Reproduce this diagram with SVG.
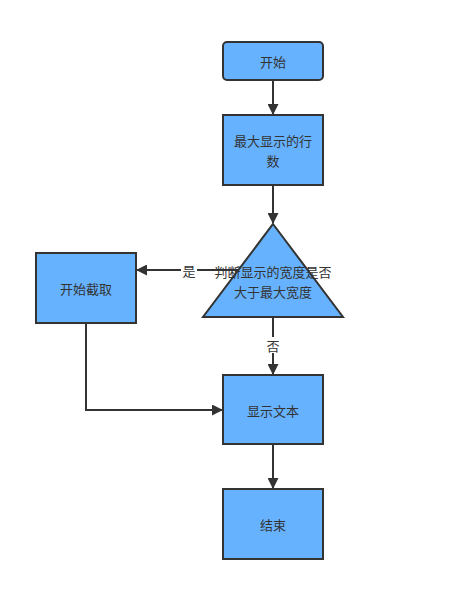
<svg xmlns="http://www.w3.org/2000/svg" width="472" height="590" viewBox="0 0 472 590">
<style>
.n{fill:#66b2ff;stroke:#333;stroke-width:2}
.t{font-family:"Noto Sans CJK SC",sans-serif;font-size:13px;fill:#333;text-anchor:middle;dominant-baseline:central}
.c{fill:none;stroke:#333;stroke-width:2}
.lb{font-family:"Noto Sans CJK SC",sans-serif;font-size:13px;fill:#333;text-anchor:middle;dominant-baseline:central}
</style>
<defs>
<marker id="a" markerWidth="11" markerHeight="11" refX="10" refY="5.5" orient="auto" markerUnits="userSpaceOnUse">
<path d="M0,0 L11,5.5 L0,11 Z" fill="#333"/>
</marker>
</defs>
<rect width="472" height="590" fill="#fff"/>
<g id="connectors">
<line class="c" x1="273" y1="81" x2="273" y2="114" marker-end="url(#a)"/>
<line class="c" x1="273" y1="185" x2="273" y2="223" marker-end="url(#a)"/>
<line class="c" x1="238" y1="270" x2="137" y2="270" marker-end="url(#a)"/>
<rect x="181" y="262" width="16" height="16" fill="#fff"/>
<text class="lb" x="189" y="270">是</text>
<line class="c" x1="273" y1="317" x2="273" y2="374" marker-end="url(#a)"/>
<rect x="265" y="337" width="16" height="16" fill="#fff"/>
<text class="lb" x="273" y="345">否</text>
<polyline class="c" points="86,323 86,410 222,410" marker-end="url(#a)"/>
<line class="c" x1="273" y1="444" x2="273" y2="488" marker-end="url(#a)"/>
</g>
<g id="start">
<rect class="n" x="223" y="42" width="100" height="38" rx="4"/>
<text class="t" x="273" y="61">开始</text>
</g>
<g id="maxlines">
<rect class="n" x="223" y="115" width="100" height="70"/>
<text class="t" x="273" y="140">最大显示的行</text>
<text class="t" x="273" y="160">数</text>
</g>
<g id="decision">
<polygon class="n" points="273,224 343,317 203,317"/>
<text class="t" x="273" y="271">判断显示的宽度是否</text>
<text class="t" x="273" y="291">大于最大宽度</text>
</g>
<g id="truncate">
<rect class="n" x="36" y="253" width="100" height="70"/>
<text class="t" x="86" y="288">开始截取</text>
</g>
<g id="show">
<rect class="n" x="223" y="375" width="100" height="69"/>
<text class="t" x="273" y="410">显示文本</text>
</g>
<g id="end">
<rect class="n" x="223" y="489" width="100" height="70"/>
<text class="t" x="273" y="524">结束</text>
</g>
</svg>
